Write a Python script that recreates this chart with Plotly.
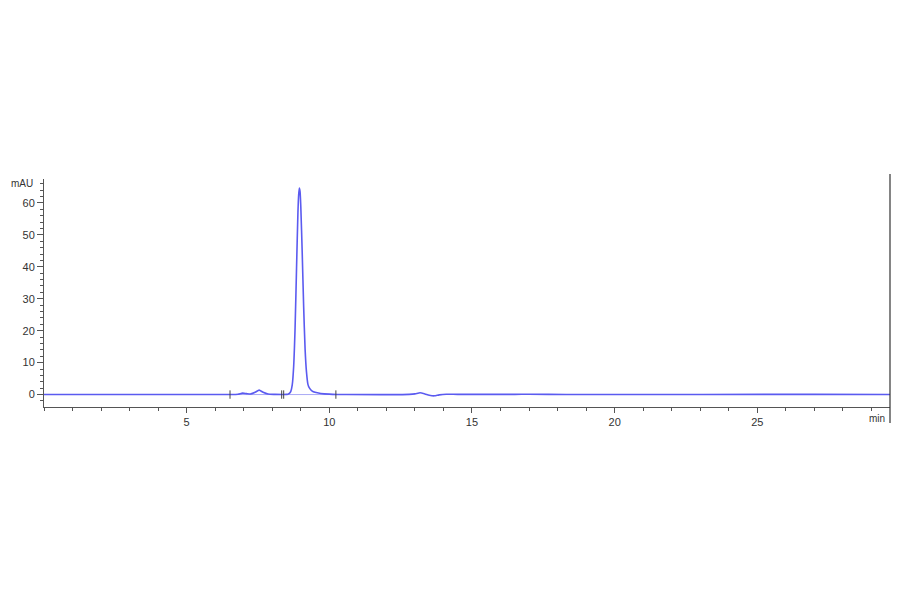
"""
HPLC chromatogram - single main peak near 8.95 min
"""
import plotly.graph_objects as go

# signal trace (time in min, absorbance in mAU)
time_min = [0.0, 4.3, 5.5, 6.5, 6.8, 6.96, 7.1, 7.25, 7.4, 7.54, 7.68, 7.85, 8.1, 8.4,
            8.5, 8.55, 8.6, 8.65, 8.7, 8.75, 8.8, 8.85, 8.9, 8.925, 8.95, 8.975, 9.0,
            9.05, 9.1, 9.15, 9.2, 9.25, 9.3, 9.4, 9.5, 9.7, 10.0, 10.3, 10.6,
            12.8, 13.0, 13.18, 13.35, 13.5, 13.68, 13.85, 14.1, 14.5, 16.5, 17.0,
            18.3, 20.3, 26.0, 27.0, 30.0]
signal_mau = [0.0, 0.0, 0.02, 0.02, 0.1, 0.45, 0.3, 0.2, 0.7, 1.4, 0.7, 0.15, 0.05, 0.0,
              0.05, 0.1, 0.35, 1.0, 3.0, 8.8, 21.0, 39.3, 57.1, 62.5, 64.7, 63.5, 58.9,
              44.3, 27.6, 14.3, 7.0, 3.2, 2.1, 1.1, 0.7, 0.35, 0.12, 0.03, 0.0,
              0.05, 0.2, 0.55, 0.2, -0.2, -0.4, -0.1, 0.1, 0.05, 0.05, 0.1,
              0.0, 0.0, 0.05, 0.05, 0.0]

# integration baseline markers
mark_time = [6.52, 8.33, 8.4, 10.23]
mark_mau = [0.0, 0.0, 0.0, 0.0]

x_ticks = [5, 10, 15, 20, 25]
y_ticks = [0, 10, 20, 30, 40, 50, 60]

TRACE = "#5b5bf0"
AXIS = "#555555"
FONT = dict(family="Liberation Sans, Arial, sans-serif", size=11, color="#333333")

fig = go.Figure()

fig.add_trace(go.Scatter(
    x=mark_time, y=mark_mau, mode="lines",
    line=dict(color="#a9a9f5", width=1), hoverinfo="skip", showlegend=False,
))
fig.add_trace(go.Scatter(
    x=time_min, y=signal_mau, mode="lines",
    line=dict(color=TRACE, width=1.6, shape="spline", smoothing=0.6),
    showlegend=False,
))
fig.add_trace(go.Scatter(
    x=mark_time, y=mark_mau, mode="markers",
    marker=dict(symbol="line-ns", size=6, line=dict(color="#444444", width=1)),
    hoverinfo="skip", showlegend=False,
))

# page body has an 8px margin, so the figure is sized to fit the visible part of the window
fig.update_layout(
    width=884, height=586,
    margin=dict(l=36, r=2, t=171, b=187),
    paper_bgcolor="white", plot_bgcolor="white",
    font=FONT,
    xaxis=dict(
        range=[0, 29.65], showgrid=False, zeroline=False, automargin=False,
        showline=True, linecolor=AXIS, linewidth=1,
        tickvals=x_ticks, ticks="outside", ticklen=5, tickcolor=AXIS,
        minor=dict(dtick=1, ticks="outside", ticklen=3, tickcolor=AXIS),
    ),
    yaxis=dict(
        range=[-3.9, 67.5], showgrid=False, zeroline=False, automargin=False,
        showline=True, linecolor=AXIS, linewidth=1,
        tickvals=y_ticks, ticks="outside", ticklen=6, tickcolor=AXIS,
        minor=dict(dtick=2, ticks="outside", ticklen=3, tickcolor=AXIS),
    ),
    annotations=[
        dict(text="min", x=0.997, y=-0.05, xref="paper", yref="paper",
             xanchor="right", yanchor="middle", showarrow=False,
             font=dict(size=10, color="#333333")),
        dict(text="mAU", x=-0.011, y=0.982, xref="paper", yref="paper",
             xanchor="right", yanchor="middle", showarrow=False,
             font=dict(size=10, color="#333333")),
    ],
    shapes=[
        dict(type="line", xref="paper", yref="paper", x0=1.0, x1=1.0,
             y0=-0.07, y1=1.022, line=dict(color="#333333", width=1.2)),
    ],
)

fig.write_html("out.html")
